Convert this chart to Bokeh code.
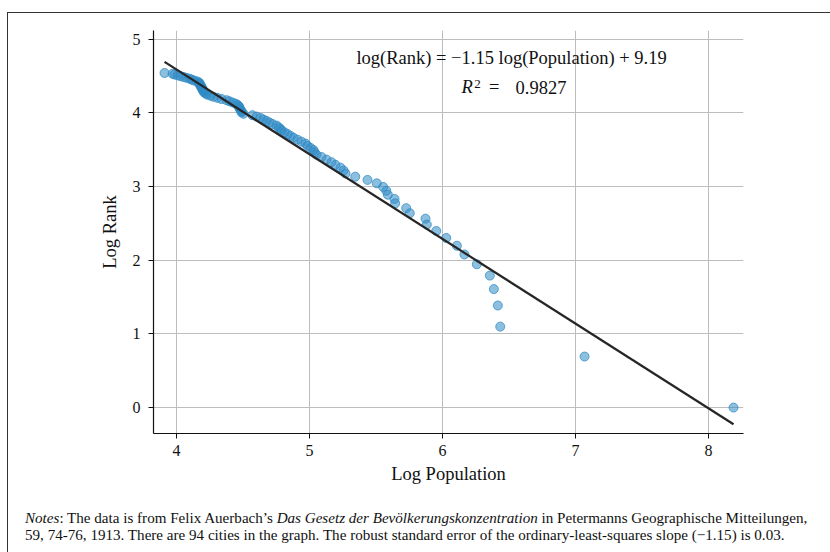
from bokeh.plotting import figure
from bokeh.models import Div, Label
from bokeh.layouts import column
from bokeh.embed import file_html
from bokeh.resources import INLINE

# Log population of each city, ordered by rank (1 = largest)
log_population = [
    8.188, 7.068, 6.434, 6.416, 6.386, 6.356, 6.258, 6.165, 6.108, 6.028,
    5.953, 5.882, 5.872, 5.754, 5.727, 5.644, 5.639, 5.589, 5.577, 5.554,
    5.506, 5.436, 5.344, 5.271, 5.256, 5.233, 5.195, 5.165, 5.128, 5.090,
    5.053, 5.038, 5.030, 5.008, 4.985, 4.970, 4.940, 4.910, 4.880, 4.857,
    4.835, 4.812, 4.789, 4.782, 4.767, 4.752, 4.722, 4.699, 4.677, 4.654,
    4.632, 4.602, 4.571, 4.504, 4.489, 4.489, 4.481, 4.474, 4.474, 4.466,
    4.459, 4.444, 4.421, 4.398, 4.376, 4.338, 4.308, 4.278, 4.256, 4.233,
    4.218, 4.211, 4.203, 4.203, 4.195, 4.195, 4.188, 4.188, 4.180, 4.180,
    4.173, 4.173, 4.165, 4.150, 4.128, 4.113, 4.098, 4.075, 4.053, 4.030,
    4.008, 3.985, 3.970, 3.910,
]
# Log rank of each city (ranks 1..94)
log_rank = [
    0.000, 0.693, 1.099, 1.386, 1.609, 1.792, 1.946, 2.079, 2.197, 2.303,
    2.398, 2.485, 2.565, 2.639, 2.708, 2.773, 2.833, 2.890, 2.944, 2.996,
    3.045, 3.091, 3.135, 3.178, 3.219, 3.258, 3.296, 3.332, 3.367, 3.401,
    3.434, 3.466, 3.497, 3.526, 3.555, 3.584, 3.611, 3.638, 3.664, 3.689,
    3.714, 3.738, 3.761, 3.784, 3.807, 3.829, 3.850, 3.871, 3.892, 3.912,
    3.932, 3.951, 3.970, 3.989, 4.007, 4.025, 4.043, 4.060, 4.078, 4.094,
    4.111, 4.127, 4.143, 4.159, 4.174, 4.190, 4.205, 4.220, 4.234, 4.248,
    4.263, 4.277, 4.290, 4.304, 4.317, 4.331, 4.344, 4.357, 4.369, 4.382,
    4.394, 4.407, 4.419, 4.431, 4.443, 4.454, 4.466, 4.477, 4.489, 4.500,
    4.511, 4.522, 4.533, 4.543,
]
fit_slope = -1.15
fit_intercept = 9.19
r_squared = "0.9827"
x_ticks = [4, 5, 6, 7, 8]
y_ticks = [0, 1, 2, 3, 4, 5]

FONT = "Liberation Serif"
INK = "#111111"

p = figure(width=820, height=486, x_range=(3.827, 8.263), y_range=(-0.352, 5.12),
           output_backend="svg", toolbar_location=None,
           min_border_left=145, min_border_right=85, min_border_top=17, min_border_bottom=66)
p.outline_line_color = None
p.background_fill_color = "white"

for ax in (p.xaxis[0], p.yaxis[0]):
    ax.major_label_text_font = FONT
    ax.major_label_text_font_size = "16px"
    ax.major_label_text_color = INK
    ax.axis_label_text_font = FONT
    ax.axis_label_text_font_size = "18.5px"
    ax.axis_label_text_font_style = "normal"
    ax.axis_label_text_color = INK
    ax.axis_line_color = INK
    ax.axis_line_width = 1.2
    ax.major_tick_line_color = INK
    ax.major_tick_in = 0
    ax.major_tick_out = 5
    ax.minor_tick_line_color = None

p.xaxis.ticker = x_ticks
p.yaxis.ticker = y_ticks
p.xaxis.axis_label = "Log Population"
p.yaxis.axis_label = "Log Rank"
p.xaxis.major_label_standoff = 6
p.yaxis.major_label_standoff = 8
p.xaxis.axis_label_standoff = 5
p.yaxis.axis_label_standoff = 10

p.xgrid.ticker = x_ticks
p.ygrid.ticker = y_ticks
p.grid.grid_line_color = "#bdbdbd"
p.grid.grid_line_width = 1

p.scatter(log_population, log_rank, size=9, fill_color="#2f8ac4", fill_alpha=0.55,
          line_color="#2f8ac4", line_alpha=0.75, line_width=1)

x_lo, x_hi = min(log_population), max(log_population)
p.line([x_lo, x_hi], [fit_slope * x_lo + fit_intercept, fit_slope * x_hi + fit_intercept],
       line_color="#262626", line_width=2.2)

eq = "log(Rank) = \u22121.15 log(Population) + 9.19"
p.add_layout(Label(x=6.519, y=4.742, text=eq, text_align="center", text_baseline="middle",
                   text_font=FONT, text_font_size="18.5px", text_color=INK))
p.add_layout(Label(x=6.143, y=4.35, text="R", text_align="left", text_baseline="middle",
                   text_font=FONT, text_font_style="italic", text_font_size="18.5px",
                   text_color=INK))
p.add_layout(Label(x=6.238, y=4.40, text="2", text_align="left", text_baseline="middle",
                   text_font=FONT, text_font_size="13px", text_color=INK))
p.add_layout(Label(x=6.350, y=4.35, text="=", text_align="left",
                   text_baseline="middle", text_font=FONT, text_font_size="18.5px",
                   text_color=INK))
p.add_layout(Label(x=6.549, y=4.35, text=r_squared, text_align="left",
                   text_baseline="middle", text_font=FONT, text_font_size="18.5px",
                   text_color=INK))

notes = Div(
    text=("<i>Notes</i>: The data is from Felix Auerbach\u2019s <i>Das Gesetz der "
          "Bev\u00f6lkerungskonzentration</i> in Petermanns Geographische Mitteilungen,<br>"
          "59, 74-76, 1913. There are 94 cities in the graph. The robust standard error of "
          "the ordinary-least-squares slope (\u22121.15) is 0.03."),
    width=820, height=50,
    styles={"font-family": FONT, "font-size": "15.1px", "line-height": "17px",
            "white-space": "nowrap", "padding-left": "12px", "padding-top": "6px",
            "color": INK},
)

layout = column(p, notes, margin=(12, 0, 0, 7),
                styles={"border-top": "1.5px solid #333333", "border-left": "1.5px solid #333333"})

open("out.html", "w").write(file_html(layout, INLINE))
